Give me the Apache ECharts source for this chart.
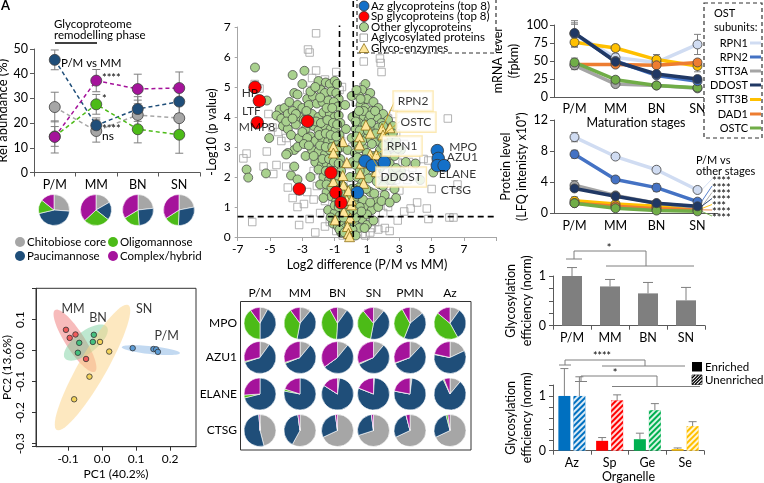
<!DOCTYPE html>
<html lang="en">
<head>
<meta charset="UTF-8">
<title>Glycoproteome remodelling</title>
<script src="https://cdn.jsdelivr.net/npm/echarts@6/dist/echarts.min.js"></script>
<style>
    body { margin: 0; padding: 0; overflow: hidden; background: #fff; }
    #chart { width: 764px; height: 483px; }
</style>
</head>
<body>
<div id="chart"></div>
<script>
// ---------- data ----------
const stages = ['P/M', 'MM', 'BN', 'SN'];
const glycoTypes = ['Chitobiose core', 'Paucimannose', 'Oligomannose', 'Complex/hybrid'];
const glycoColors = ['#a6a6a6', '#1f4e79', '#4cbb17', '#a5139b'];

// panel A: relative abundance (%)
const chitobiose = [26.5, 16.8, 23.3, 22.0];
const paucimannose = [45.6, 19.1, 25.7, 28.7];
const oligomannose = [14.6, 27.6, 17.5, 15.3];
const complexHybrid = [14.4, 37.2, 33.8, 34.2];
const chitobioseErr = [6, 4.5, 6, 6.5];
const paucimannoseErr = [4, 3, 5, 5];
const oligomannoseErr = [4, 4, 5.5, 7.5];
const complexHybridErr = [6.5, 4.5, 6, 6.5];

// volcano: [log2 diff, -log10 p]
const azGlycoproteins = [[5.35,2.88],[5.41,2.62],[5.35,2.38],[5.77,2.38],[0.88,2.53],[1.33,2.38],[2.07,2.49],[0.41,1.48]];
const spGlycoproteins = [[-5.93,4.99],[-5.66,4.54],[-5.79,3.81],[-2.67,3.86],[-1.23,2.14],[-3.19,1.6],[-0.92,1.48],[-0.61,1.14]];
const otherGlycoproteins = [
 [-5.93,5.65],[-5.2,4.55],[-5.05,3.3],[-6.45,2.25],[-6.35,1.98],[-5.25,2.12],[-3.7,2.05],[-3.3,1.92],
 [-2.87,5.54],[-3.6,5.4],[-2.0,5.2],[-1.55,5.15],[-1.3,5.1],[-1.0,5.2],[-0.85,5.1],
 [-3.0,5.1],[-3.5,4.8],[-2.7,4.6],[-2.35,4.7],[-1.85,4.9],[-1.6,4.8],[-1.2,4.85],[-0.9,4.8],[-0.75,4.6],
 [-4.4,4.25],[-4.1,4.3],[-3.8,4.5],[-3.3,4.4],[-3.0,4.3],[-2.6,4.4],[-2.1,4.45],[-1.75,4.5],[-1.4,4.55],[-1.05,4.5],[-0.8,4.35],
 [-4.6,4.05],[-4.3,3.95],[-3.9,4.1],[-3.6,4.2],[-3.2,4.0],[-2.9,3.9],[-2.4,4.1],[-2.0,4.0],[-1.7,4.15],[-1.3,4.1],[-1.0,4.0],[-0.75,4.05],[-0.65,3.8],
 [-4.2,3.7],[-3.9,3.6],[-3.4,3.75],[-2.8,3.6],[-2.3,3.7],[-2.0,3.55],[-1.6,3.7],[-1.25,3.6],[-0.95,3.55],[-0.7,3.4],
 [-3.7,3.4],[-3.2,3.3],[-2.5,3.35],[-2.2,3.2],[-1.8,3.3],[-1.4,3.2],[-1.1,3.25],[-0.8,3.1],[-0.6,3.0],
 [-3.5,2.9],[-3.3,3.0],[-3.9,2.8],[-4.0,2.75],[-3.5,2.35],[-2.4,2.9],[-2.0,2.85],[-1.6,2.75],[-1.3,2.9],[-0.9,2.7],[-0.65,2.6],
 [-2.2,2.5],[-1.8,2.4],[-1.5,2.45],[-1.2,2.35],[-0.85,2.3],[-0.6,2.2],
 [-2.5,2.0],[-1.7,2.0],[-1.35,1.9],[-1.0,1.85],[-0.75,1.8],[-0.5,1.7],
 [-1.5,1.5],[-1.2,1.35],[-0.9,1.2],[-0.6,1.3],[-0.4,1.45],
 [-1.4,0.9],[-1.0,0.8],[-0.7,0.7],[-0.45,0.9],[-0.3,1.1],
 [-1.1,0.45],[-0.8,0.35],[-0.55,0.5],[-0.35,0.3],[-0.2,0.6],[-0.6,0.15],[-0.25,0.1],
 [-3.3,4.75],[-2.5,4.85],[-2.2,5.0],[-1.9,4.65],[-1.5,4.3],[-1.15,4.3],[-2.75,4.2],[-3.4,4.1],[-4.0,3.85],[-3.6,3.95],
 [-2.6,3.8],[-2.15,3.85],[-1.85,3.8],[-1.45,3.9],[-1.1,3.8],[-0.85,3.75],[-3.0,3.5],[-2.7,3.3],[-1.95,3.4],[-1.55,3.45],
 [-1.25,3.4],[-0.9,3.35],[-2.9,3.1],[-2.6,3.05],[-1.9,3.05],[-1.55,3.0],[-1.15,3.0],[-0.85,2.9],[-2.8,2.7],[-2.3,2.7],
 [-1.75,2.6],[-1.35,2.6],[-1.05,2.5],[-0.75,2.45],[-2.0,2.25],[-1.55,2.2],[-1.1,2.1],[-0.8,2.05],[-1.9,1.75],[-1.5,1.75],
 [-1.2,1.65],[-0.9,1.55],[-0.65,1.5],[-1.7,1.3],[-1.0,1.05],[-0.75,1.0],[-0.5,1.15],[-1.25,0.65],[-0.9,0.55],[-0.45,0.65],
 [-0.7,0.25],[-0.4,0.15],
 [-0.1,0.4],[0.0,0.8],[-0.15,1.3],[0.05,1.6],[-0.05,2.0],[0.1,2.5],[-0.2,2.9],[0.05,3.3],[-0.3,3.6],[0.1,4.0],[-0.35,4.4],[0.05,4.7],
 [0.9,5.1],[0.7,4.9],[1.2,4.8],[0.5,4.7],[1.0,4.6],[1.4,4.5],[0.6,4.4],[1.7,4.3],[0.9,4.3],[1.3,4.2],
 [0.4,4.1],[2.0,4.1],[0.8,4.0],[1.6,4.0],[1.1,3.9],[2.3,3.9],[0.5,3.8],[1.9,3.8],[2.6,3.7],[0.3,3.6],[1.4,3.6],[2.2,3.5],[0.7,3.5],
 [0.45,3.3],[1.0,3.3],[1.6,3.2],[2.8,3.2],[0.3,3.1],[2.4,3.0],[0.8,2.95],[1.8,2.9],[3.1,2.9],[0.25,2.8],[1.4,2.7],[2.7,2.7],[0.6,2.6],
 [2.0,2.6],[3.4,2.5],[0.3,2.4],[1.8,2.3],[2.6,2.2],[0.9,2.2],[3.1,2.2],[4.3,1.9],[5.1,2.15],[0.4,2.0],[1.4,2.0],[2.3,1.9],
 [0.7,1.8],[1.8,1.75],[2.7,1.6],[0.3,1.6],[1.2,1.5],[2.1,1.4],[2.8,1.3],[0.5,1.3],[1.6,1.2],[0.2,1.1],[0.9,1.0],[1.3,0.9],
 [0.4,0.8],[0.7,0.6],[0.2,0.5],[0.5,0.3],[0.1,0.25],[0.3,0.05],[1.0,0.4],[1.7,1.0],
 [0.35,4.9],[0.6,4.6],[0.8,4.2],[1.2,4.05],[1.5,4.2],[0.5,4.2],[0.3,3.85],[0.9,3.75],[1.25,3.8],[1.7,3.65],[2.0,3.7],
 [0.55,3.55],[1.05,3.55],[1.55,3.45],[1.9,3.3],[2.3,3.3],[0.35,3.35],[0.7,3.2],[1.3,3.1],[2.0,3.05],[2.6,3.45],
 [0.5,2.95],[1.0,2.8],[1.6,2.7],[2.2,2.75],[2.9,2.95],[0.4,2.65],[0.8,2.45],[1.2,2.4],[1.55,2.25],[2.4,2.45],[2.8,2.3],
 [0.55,2.2],[1.1,1.95],[1.6,1.85],[2.0,1.7],[2.5,1.9],[0.5,1.65],[0.95,1.6],[1.45,1.45],[1.9,1.2],[2.4,1.15],[0.35,1.35],
 [0.75,1.25],[1.2,1.15],[0.55,1.0],[1.0,0.75],[0.3,0.65],[0.65,0.85],[1.4,0.55],[0.15,0.9],[0.85,0.3],[3.0,2.05],[4.0,2.45]
];
const aglycosylatedProteins = [
 [-6.65,2.62],[-6.45,2.78],[-5.95,5.1],[-5.65,4.95],[-5.1,4.1],[-5.2,2.85],[-5.4,2.35],[-4.8,2.1],[-4.6,2.4],[-4.85,3.65],
 [-4.3,3.2],[-6.1,0.5],[-3.2,0.4],[-2.55,0.6],[-2.15,6.79],[-2.65,6.25],[-2.55,6.15],[-2.15,5.55],[-0.9,5.5],[-1.6,5.25],
 [-0.55,5.0],[0.8,5.85],[1.8,5.95],[1.85,5.8],[1.9,5.5],[0.77,5.0],[1.2,4.75],[6.0,3.95],[5.0,1.6],[6.6,1.75],
 [6.1,0.65],[6.35,0.65],[4.1,1.15],[4.7,0.95],[4.8,0.6],[2.4,0.2],[3.2,2.45],[3.6,2.5],[4.5,2.6],[4.8,2.55],
 [3.8,2.3],[3.4,2.1],[-3.9,1.65],[-3.6,1.3],[-3.3,1.0],[-4.0,2.35],[-4.5,3.5],[-4.0,3.3],[-3.5,3.15],
 [-1.9,3.6],[-1.6,3.4],[-2.2,3.1],[-1.5,2.9],[-2.0,2.6],[-1.7,2.2],[-1.2,2.1],[-2.1,1.7],[-1.6,1.2],[-1.9,0.8],
 [-1.3,0.5],[-0.9,0.2],[-0.5,0.05],[0.05,0.2],[0.7,0.1],[1.2,0.15],[1.5,0.5],[2.0,0.8],[2.3,1.0],[1.9,1.4],
 [2.4,1.7],[1.7,2.1],[2.2,2.4],[2.9,2.5],[1.5,2.5],[2.6,3.0],[2.0,3.3],[2.4,3.6],[1.5,3.9],[1.2,4.4],
 [0.3,4.5],[-0.7,4.9],[-1.1,4.2],[-0.6,3.2],[0.1,3.0],[-0.2,2.4],[0.0,1.8],[-0.1,1.2],[0.6,0.95],[1.0,2.7],
 [2.8,1.9],[3.0,1.55],[3.5,1.9],[2.1,0.3],[0.9,0.05],[-2.3,1.25],[-2.7,1.5],[-2.9,1.1],[-2.3,2.2],[-2.6,2.7],
 [-2.9,3.4],[-3.1,3.7],[-3.4,4.1],[-2.7,4.9],[-2.4,5.3],[1.3,0.3],[1.7,0.25],[-1.6,0.35],[-2.2,0.15],[3.7,0.95],
 [2.9,0.55],[3.3,0.85],[2.3,3.95],[2.8,3.45],[3.3,3.1],[2.65,4.1]
];
const glycoEnzymes = [
 [-1.08,3.02],[-0.5,3.18],[-1.08,2.8],[-0.25,2.48],[-1.08,1.85],[-0.5,2.05],[-0.87,1.57],[-0.46,1.73],[-0.15,1.54],
 [-0.25,1.23],[-0.44,0.85],[0.04,1.07],[-0.97,0.57],[-0.04,0.63],[-0.21,0.35],[-0.15,0.12],[-0.08,0.01],
 [0.58,2.12],[0.68,2.46],[0.79,1.79],[0.93,3.73],[1.2,3.46],[0.54,3.34],[0.54,3.07],[1.93,3.62],[1.99,3.4],
 [2.42,3.64],[1.2,2.76],[1.57,2.74],[1.57,2.18],[0.04,1.23],[0.37,1.57]
];
const volcanoCutX = [-0.7, 0.15];
const volcanoCutY = 0.68;
const spLabels = [['HP',-6.25,4.8],['LTF',-6.15,4.2],['MMP8',-5.8,3.67]];
const azLabels = [['MPO',6.95,3.0],['AZU1',6.9,2.67],['ELANE',6.6,2.1],['CTSG',6.5,1.57]];
// enzyme label box centre, leader line start, leader line end
const enzymeLabels = [
 ['RPN2',3.85,4.53,2.69,4.5,1.93,3.62],
 ['OSTC',4.03,3.83,3.04,3.85,2.0,3.4],
 ['RPN1',3.17,3.03,2.25,3.0,1.57,2.74],
 ['DDOST',3.11,2.0,1.82,2.2,1.2,2.76]
];

// OST subunits
const ostSubunits = ['RPN1', 'RPN2', 'STT3A', 'DDOST', 'STT3B', 'DAD1', 'OSTC'];
const ostColors = ['#d0dcf2', '#4472c4', '#a5a5a5', '#203864', '#ffc000', '#ed7d31', '#70ad47'];
const mrnaRPN1 = [88, 55, 48, 73];
const mrnaRPN2 = [88, 50, 30, 22];
const mrnaSTT3A = [44, 18, 16, 12];
const mrnaDDOST = [89, 49, 32, 25];
const mrnaSTT3B = [76, 68, 52, 43];
const mrnaDAD1 = [45, 45, 44, 48];
const mrnaOSTC = [48, 24, 16, 13];
const mrnaErr = [[18,5,6,14],[15,4,3,3],[6,3,2,2],[12,5,4,4],[7,4,7,8],[3,3,3,4],[6,4,3,4]];
const protRPN1 = [9.8, 7.3, 5.6, 3.0];
const protRPN2 = [7.6, 4.35, 3.3, 1.5];
const protSTT3A = [3.6, 2.3, 1.3, 0.8];
const protDDOST = [3.2, 2.2, 1.3, 0.9];
const protSTT3B = [1.6, 1.2, 0.9, 0.6];
const protDAD1 = [1.3, 0.9, 0.6, 0.45];
const protOSTC = [1.3, 0.65, 0.35, 0.25];
const protErr = [[0.6,0.2,0.4,0.2],[0.5,0.3,0.5,0.3],[0.6,0.2,0.2,0.1],[0.3,0.2,0.2,0.1],[0.5,0.2,0.1,0.1],[0.3,0.1,0.1,0.1],[0.3,0.1,0.1,0.1]];
const protStars = ['****', '****', '****', '****', '***', '****', '****'];

// glycosylation efficiency
const glycEff = [1.0, 0.79, 0.65, 0.51];
const glycEffErr = [0.17, 0.14, 0.22, 0.26];
const organelles = ['Az', 'Sp', 'Ge', 'Se'];
const organelleColors = ['#0070c0', '#ff0000', '#00b050', '#ffc000'];
const enriched = [1.0, 0.18, 0.21, 0.03];
const enrichedErr = [0.5, 0.06, 0.11, 0.02];
const unenriched = [1.0, 0.92, 0.74, 0.45];
const unenrichedErr = [0.35, 0.1, 0.12, 0.08];

// PCA
const pcaGroups = ['MM', 'BN', 'SN', 'P/M'];
const pcaColors = ['#ef5b5b', '#45c07f', '#f3d35a', '#5b9bd5'];
const pcaFill = ['rgba(240,120,120,0.5)', 'rgba(110,205,150,0.45)', 'rgba(252,214,140,0.55)', 'rgba(120,170,225,0.45)'];
const pcaMM = [[-0.106,0.067],[-0.095,0.041],[-0.078,0.052],[-0.047,-0.027]];
const pcaBN = [[-0.024,0.051],[-0.027,0.028],[-0.067,0.025],[-0.071,-0.007]];
const pcaSN = [[-0.006,0.028],[0.021,-0.003],[-0.037,-0.084],[-0.082,-0.157]];
const pcaPM = [[0.09,0.008],[0.151,0.005],[0.159,0.004],[0.164,-0.004]];
// ellipse major axis ends (data units) + minor half width (px)
const pcaEllipses = [
 [-0.138,0.131,-0.021,-0.068,9.5],
 [-0.109,-0.025,0.014,0.077,11],
 [-0.133,-0.256,0.077,0.147,14],
 [0.058,0.011,0.229,-0.008,4]
];
const pcaLabels = [['MM',-0.085,0.134],['BN',-0.012,0.105],['SN',0.124,0.134],['P/M',0.19,0.047]];
const pcaYTicks = [-0.3, -0.2, -0.1, 0.0, 0.1];

// site glycan composition per protein, [chitobiose, pauci, oligo, complex]
const pieSamples = ['P/M', 'MM', 'BN', 'SN', 'PMN', 'Az'];
const pieProteins = ['MPO', 'AZU1', 'ELANE', 'CTSG'];
const mpoGlycans = [[8,42,40,10],[11,42,37,10],[10,41,41,8],[11,42,36,11],[14,42,36,8],[10,32,44,14]];
const azu1Glycans = [[10,60,1,29],[11,58,1,30],[11,54,0,35],[11,57,1,31],[12,57,0.5,30.5],[18,60,0.5,21.5]];
const elaneGlycans = [[0,71,3,26],[0,78,2,20],[2,82,0,16],[1,80,0,19],[2,76,0,22],[11,82,1,6]];
const ctsgGlycans = [[46,53,0,1],[58,40,0,2],[68,30,0,2],[70,28,0,2],[68,28,0,4],[68,28,2,2]];

// ---------- chart ----------
const FONT = 'Lato, "Liberation Sans", sans-serif';
const chart = echarts.init(document.getElementById('chart'));

function catAxis(gi, data, extra) {
    return Object.assign({
        type: 'category', gridIndex: gi, data: data, boundaryGap: true,
        axisLine: { show: true, onZero: false, lineStyle: { color: '#595959' } },
        axisTick: { show: true, length: 4, lineStyle: { color: '#595959' } },
        axisLabel: { color: '#000', fontSize: 12.5, fontFamily: FONT, margin: 6 },
        splitLine: { show: false },
        nameTextStyle: { color: '#000', fontSize: 12.5, fontFamily: FONT }
    }, extra || {});
}
function valAxis(gi, min, max, interval, extra) {
    return Object.assign({
        type: 'value', gridIndex: gi, min: min, max: max, interval: interval,
        axisLine: { show: true, onZero: false, lineStyle: { color: '#595959' } },
        axisTick: { show: true, length: 4, lineStyle: { color: '#595959' } },
        axisLabel: { color: '#000', fontSize: 12.5, fontFamily: FONT, margin: 6 },
        splitLine: { show: false },
        nameLocation: 'middle', nameRotate: 90,
        nameTextStyle: { color: '#000', fontSize: 12.5, fontFamily: FONT, lineHeight: 16 }
    }, extra || {});
}

// error bars on category axes
function errBars(xi, means, errs, color, offset, upOnly, cap) {
    return {
        type: 'custom', xAxisIndex: xi, yAxisIndex: xi, clip: false, silent: true, z: 1,
        encode: { x: 0, y: 1 },
        data: means.map((m, i) => [i, m, errs[i]]),
        renderItem: (params, api) => {
            const c = api.coord([api.value(0), api.value(1)]);
            const x = c[0] + (offset || 0);
            const top = api.coord([api.value(0), api.value(1) + api.value(2)])[1];
            const bot = upOnly ? c[1] : api.coord([api.value(0), api.value(1) - api.value(2)])[1];
            const w = cap || 4;
            const st = { stroke: color, lineWidth: 1 };
            const ch = [
                { type: 'line', shape: { x1: x, y1: top, x2: x, y2: bot }, style: st },
                { type: 'line', shape: { x1: x - w, y1: top, x2: x + w, y2: top }, style: st }
            ];
            if (!upOnly) ch.push({ type: 'line', shape: { x1: x - w, y1: bot, x2: x + w, y2: bot }, style: st });
            return { type: 'group', children: ch };
        }
    };
}

const series = [];

// ---- panel A lines
const aMeans = [chitobiose, paucimannose, oligomannose, complexHybrid];
const aErrs = [chitobioseErr, paucimannoseErr, oligomannoseErr, complexHybridErr];
aMeans.forEach((m, k) => series.push(errBars(0, m, aErrs[k], '#7f7f7f', 0, false, 4)));
aMeans.forEach((m, k) => series.push({
    type: 'line', name: glycoTypes[k], xAxisIndex: 0, yAxisIndex: 0, data: m, z: 3,
    lineStyle: { color: glycoColors[k], width: 1.5, type: [4, 3] },
    symbol: 'circle', symbolSize: 11,
    itemStyle: { color: glycoColors[k], borderColor: '#404040', borderWidth: 0.8 }
}));
// panel A pies
const aPieX = [54, 96, 138, 179];
stages.forEach((s, i) => series.push({
    type: 'pie', center: [aPieX[i], 210], radius: 15.5, startAngle: 90, clockwise: true,
    silent: true, label: { show: false }, labelLine: { show: false },
    itemStyle: { borderColor: '#fff', borderWidth: 0.6 },
    data: glycoTypes.map((g, k) => ({ name: g, value: aMeans[k][i], itemStyle: { color: glycoColors[k] } }))
}));

// ---- volcano
series.push({
    type: 'scatter', xAxisIndex: 1, yAxisIndex: 1, data: aglycosylatedProteins, symbol: 'rect', symbolSize: 7.5, z: 2,
    itemStyle: { color: 'rgba(255,255,255,0)', borderColor: '#a0a0a0', borderWidth: 1 }
});
series.push({
    type: 'scatter', xAxisIndex: 1, yAxisIndex: 1, data: otherGlycoproteins, symbolSize: 9, z: 3,
    itemStyle: { color: '#a9d18e', borderColor: '#3c3c3c', borderWidth: 0.7, opacity: 1 }
});
series.push({
    type: 'scatter', xAxisIndex: 1, yAxisIndex: 1, data: glycoEnzymes, symbol: 'triangle', symbolSize: 10, z: 4,
    itemStyle: { color: '#ffe699', borderColor: '#7f6000', borderWidth: 0.7, opacity: 1 }
});
series.push({
    type: 'scatter', xAxisIndex: 1, yAxisIndex: 1, data: spGlycoproteins, symbolSize: 12.5, z: 5,
    itemStyle: { color: '#ff0000', borderColor: '#333', borderWidth: 0.8, opacity: 1 }
});
series.push({
    type: 'scatter', xAxisIndex: 1, yAxisIndex: 1, data: azGlycoproteins, symbolSize: 12.5, z: 5,
    itemStyle: { color: '#1470c8', borderColor: '#333', borderWidth: 0.8, opacity: 1 }
});
// dashed cut-offs
series.push({
    type: 'custom', xAxisIndex: 1, yAxisIndex: 1, clip: false, silent: true, z: 6, encode: { x: 0, y: 1 },
    data: [[volcanoCutX[0], 0, volcanoCutX[0], 7.05], [volcanoCutX[1], 0, volcanoCutX[1], 7.9], [-7, volcanoCutY, 9, volcanoCutY]],
    renderItem: (p, api) => {
        const a = api.coord([api.value(0), api.value(1)]), b = api.coord([api.value(2), api.value(3)]);
        return { type: 'line', shape: { x1: a[0], y1: a[1], x2: b[0], y2: b[1] }, style: { stroke: '#000', lineWidth: 1.6, lineDash: [6, 4] } };
    }
});
// leader lines
series.push({
    type: 'custom', xAxisIndex: 1, yAxisIndex: 1, clip: false, silent: true, z: 6, encode: { x: 0, y: 1 },
    data: enzymeLabels.map(e => [e[3], e[4], e[5], e[6]]),
    renderItem: (p, api) => {
        const a = api.coord([api.value(0), api.value(1)]), b = api.coord([api.value(2), api.value(3)]);
        return { type: 'line', shape: { x1: a[0], y1: a[1], x2: b[0], y2: b[1] }, style: { stroke: '#c9a227', lineWidth: 1 } };
    }
});
series.push({
    type: 'scatter', xAxisIndex: 1, yAxisIndex: 1, symbolSize: 1, z: 7, silent: true,
    itemStyle: { color: 'rgba(0,0,0,0)' },
    data: enzymeLabels.map(e => ({ name: e[0], value: [e[1], e[2]] })),
    label: {
        show: true, position: 'inside', formatter: '{b}', color: '#000', fontSize: 12, fontFamily: FONT,
        backgroundColor: '#fff', borderColor: '#fbe3a0', borderWidth: 1.3, padding: [4, 4, 3, 4]
    }
});
series.push({
    type: 'scatter', xAxisIndex: 1, yAxisIndex: 1, symbolSize: 1, z: 7, silent: true,
    itemStyle: { color: 'rgba(0,0,0,0)' },
    data: spLabels.concat(azLabels).map(e => ({ name: e[0], value: [e[1], e[2]] })),
    label: { show: true, position: 'inside', formatter: '{b}', color: '#000', fontSize: 12, fontFamily: FONT }
});

// ---- mRNA and protein
const mrna = [mrnaRPN1, mrnaRPN2, mrnaSTT3A, mrnaDDOST, mrnaSTT3B, mrnaDAD1, mrnaOSTC];
const prot = [protRPN1, protRPN2, protSTT3A, protDDOST, protSTT3B, protDAD1, protOSTC];
mrna.forEach((m, k) => series.push(errBars(2, m, mrnaErr[k], '#808080', 0, false, 3.5)));
prot.forEach((m, k) => series.push(errBars(3, m, protErr[k], '#808080', 0, false, 3.5)));
const lineOrder = [0, 4, 5, 2, 6, 1, 3];
lineOrder.forEach(k => {
    [[2, mrna[k]], [3, prot[k]]].forEach(([ax, d]) => series.push({
        type: 'line', name: ostSubunits[k], xAxisIndex: ax, yAxisIndex: ax, data: d, z: 3,
        lineStyle: { color: ostColors[k], width: 3.5 },
        symbol: 'circle', symbolSize: 9,
        itemStyle: { color: ostColors[k], borderColor: '#404040', borderWidth: 0.8 }
    }));
});
// fan lines from SN to significance stars
const starRows = [179, 186, 192.5, 198.5, 204.5, 210, 216];
series.push({
    type: 'custom', xAxisIndex: 3, yAxisIndex: 3, clip: false, silent: true, z: 2, encode: { x: 0, y: 1 },
    data: prot.map((d, k) => [3, d[3], k]),
    renderItem: (p, api) => {
        const k = api.value(2);
        const c = api.coord([api.value(0), api.value(1)]);
        return { type: 'line', shape: { x1: c[0] + 4, y1: c[1], x2: 712, y2: starRows[k] }, style: { stroke: ostColors[k], lineWidth: 0.9 } };
    }
});

// ---- glycosylation efficiency bars
series.push({
    type: 'bar', xAxisIndex: 4, yAxisIndex: 4, data: glycEff, barWidth: 20, z: 2,
    itemStyle: { color: '#7f7f7f' }
});
series.push(errBars(4, glycEff, glycEffErr, '#7f7f7f', 0, true, 5));

series.push({
    type: 'bar', name: 'Enriched', xAxisIndex: 5, yAxisIndex: 5, barWidth: 12, barGap: '25%', z: 2,
    data: enriched.map((v, i) => ({ value: v, itemStyle: { color: organelleColors[i] } }))
});
series.push({
    type: 'bar', name: 'Unenriched', xAxisIndex: 5, yAxisIndex: 5, barWidth: 12, barGap: '25%', z: 2,
    data: unenriched.map((v, i) => ({
        value: v,
        itemStyle: {
            color: organelleColors[i],
            decal: { symbol: 'rect', symbolSize: 1, color: 'rgba(255,255,255,0.85)', dashArrayX: [1, 0], dashArrayY: [2, 2], rotation: -Math.PI / 4 }
        }
    }))
});
series.push(errBars(5, enriched, enrichedErr, '#808080', -7.5, true, 4));
series.push(errBars(5, unenriched, unenrichedErr, '#808080', 7.5, true, 4));

// ---- PCA
series.push({
    type: 'custom', xAxisIndex: 6, yAxisIndex: 6, clip: false, silent: true, z: 1, encode: { x: 0, y: 1 },
    data: pcaEllipses.map((e, k) => e.concat([k])),
    renderItem: (p, api) => {
        const a = api.coord([api.value(0), api.value(1)]), b = api.coord([api.value(2), api.value(3)]);
        const cx = (a[0] + b[0]) / 2, cy = (a[1] + b[1]) / 2;
        const R = Math.hypot(b[0] - a[0], b[1] - a[1]) / 2, r = api.value(4);
        const ang = Math.atan2(b[1] - a[1], b[0] - a[0]);
        const pts = [];
        for (let i = 0; i < 60; i++) {
            const t = i / 60 * Math.PI * 2;
            const ex = R * Math.cos(t), ey = r * Math.sin(t);
            pts.push([cx + ex * Math.cos(ang) - ey * Math.sin(ang), cy + ex * Math.sin(ang) + ey * Math.cos(ang)]);
        }
        return { type: 'polygon', shape: { points: pts }, style: { fill: pcaFill[api.value(5)] } };
    }
});
[pcaMM, pcaBN, pcaSN, pcaPM].forEach((d, k) => series.push({
    type: 'scatter', name: pcaGroups[k], xAxisIndex: 6, yAxisIndex: 6, data: d, symbolSize: 5.5, z: 3,
    itemStyle: { color: pcaColors[k], borderColor: '#333', borderWidth: 0.8, opacity: 1 }
}));
series.push({
    type: 'scatter', xAxisIndex: 6, yAxisIndex: 6, symbolSize: 1, z: 4, silent: true,
    itemStyle: { color: 'rgba(0,0,0,0)' },
    data: pcaLabels.map(e => ({ name: e[0], value: [e[1], e[2]] })),
    label: { show: true, position: 'inside', formatter: '{b}', color: '#000', fontSize: 12.5, fontFamily: FONT }
});
// rotated PC2 tick labels (R style), placed through the y scale
series.push({
    type: 'custom', xAxisIndex: 6, yAxisIndex: 6, clip: false, silent: true, z: 4, encode: { x: 0, y: 1 },
    data: pcaYTicks.map(v => [-0.194, v]),
    renderItem: (p, api) => {
        const c = api.coord([api.value(0), api.value(1)]);
        return {
            type: 'text', x: c[0] - 10, y: c[1], rotation: Math.PI / 2,
            style: { text: api.value(1).toFixed(1), fill: '#000', font: '12px ' + FONT, align: 'center', verticalAlign: 'bottom' }
        };
    }
});

// ---- pie grid
const pieX = [260, 300, 337.5, 373.5, 410, 450];
const pieY = [323.3, 357.5, 394, 430.5];
[mpoGlycans, azu1Glycans, elaneGlycans, ctsgGlycans].forEach((row, r) => {
    row.forEach((vals, c) => series.push({
        type: 'pie', center: [pieX[c], pieY[r]], radius: 16, startAngle: 90, clockwise: true,
        silent: true, label: { show: false }, labelLine: { show: false },
        itemStyle: { borderColor: '#fff', borderWidth: 0.6 },
        data: vals.map((v, k) => ({ name: glycoTypes[k], value: v, itemStyle: { color: glycoColors[k] } }))
    }));
});

// ---------- graphic annotations ----------
function T(x, y, text, o) {
    o = o || {};
    return {
        type: 'text', x: x, y: y, rotation: o.rot || 0, z: 100, silent: true,
        style: {
            text: text, fill: o.color || '#000', font: (o.weight || 'normal') + ' ' + (o.size || 12) + 'px ' + FONT,
            textAlign: o.align || 'left', align: o.align || 'left', textVerticalAlign: 'middle', verticalAlign: 'middle'
        }
    };
}
function L(points, o) {
    o = o || {};
    return { type: 'polyline', z: 100, silent: true, shape: { points: points }, style: { stroke: o.color || '#7f7f7f', lineWidth: o.w || 1, fill: null, lineDash: o.dash || null } };
}
function Dot(x, y, r, color, border) {
    return { type: 'circle', z: 100, silent: true, shape: { cx: x, cy: y, r: r }, style: { fill: color, stroke: border || null, lineWidth: 0.8 } };
}
const g = [];
g.push(T(1, 6, 'A', { weight: 'bold', size: 13 }));
// panel A notes
g.push(T(54, 24, 'Glycoproteome', { size: 11.5 }));
g.push(T(54, 35, 'remodelling phase', { size: 11.5 }));
g.push(L([[55, 43], [97, 43]], { color: '#000', w: 1.3 }));
g.push(T(61, 63, 'P/M vs MM', { size: 11.5 }));
g.push(T(102, 78, '****', { size: 11 }));
g.push(T(102, 99, '*', { size: 11 }));
g.push(T(102, 129, '****', { size: 11 }));
g.push(T(102, 136, 'ns', { size: 12 }));
// panel A legend
[[20, 242, 0], [113, 242, 2], [20, 256, 1], [113, 256, 3]].forEach(([x, y, k]) => {
    g.push(Dot(x, y, 5, glycoColors[k]));
    g.push(T(x + 7, y, glycoTypes[k], { size: 11.5 }));
});
// volcano legend
g.push({ type: 'rect', z: 99, silent: true, shape: { x: 357, y: -2, width: 139, height: 55 }, style: { fill: '#fff', stroke: '#333', lineWidth: 1.2, lineDash: [4, 3] } });
const vLeg = [['Az glycoproteins (top 8)', 6], ['Sp glycoproteins (top 8)', 16.5], ['Other glycoproteins', 27], ['Aglycosylated proteins', 37.5], ['Glyco-enzymes', 48]];
g.push(Dot(364, 6, 5, '#1470c8', '#333'));
g.push(Dot(364, 16.5, 5, '#ff0000', '#333'));
g.push(Dot(364, 27, 4.5, '#a9d18e', '#3c3c3c'));
g.push({ type: 'rect', z: 100, silent: true, shape: { x: 360, y: 34, width: 7.5, height: 7.5 }, style: { fill: '#fff', stroke: '#a0a0a0', lineWidth: 1 } });
g.push({ type: 'polygon', z: 100, silent: true, shape: { points: [[364, 43.5], [369, 52.5], [359, 52.5]] }, style: { fill: '#ffe699', stroke: '#7f6000', lineWidth: 0.7 } });
vLeg.forEach(([t, y]) => g.push(T(371, y, t, { size: 11.5 })));
// OST legend
g.push({ type: 'rect', z: 99, silent: true, shape: { x: 704, y: 3, width: 58, height: 135 }, style: { fill: '#fff', stroke: '#333', lineWidth: 1.2, lineDash: [4, 3] } });
g.push(T(714, 13, 'OST', { size: 11 }));
g.push(T(714, 27, 'subunits:', { size: 11 }));
const ostRows = [43, 57, 71, 85, 99.5, 114, 128];
ostSubunits.forEach((s, k) => {
    g.push(T(748, ostRows[k], s, { size: 11, align: 'right' }));
    g.push(L([[750, ostRows[k]], [761, ostRows[k]]], { color: ostColors[k], w: 3 }));
});
// protein notes
g.push(T(696, 160, 'P/M vs', { size: 11 }));
g.push(T(696, 171, 'other stages', { size: 11 }));
protStars.forEach((s, k) => g.push(T(712, starRows[k] + 2, s, { size: 11 })));
// pie grid frame and labels
g.push({ type: 'rect', z: 99, silent: true, shape: { x: 240.5, y: 301.5, width: 230.5, height: 148.5 }, style: { fill: null, stroke: '#333', lineWidth: 1 } });
pieSamples.forEach((s, c) => g.push(T(pieX[c], 293, s, { size: 12, align: 'center' })));
pieProteins.forEach((s, r) => g.push(T(237, pieY[r], s, { size: 12, align: 'right' })));
// bar brackets
g.push(T(609, 248, '*', { size: 11, align: 'center' }));
g.push(L([[574, 259], [574, 251], [646, 251], [646, 266]]));
g.push(L([[566, 259], [582, 259]]));
g.push(L([[606, 266], [694, 266]]));
g.push(T(602, 357, '****', { size: 10.5, align: 'center' }));
g.push(L([[565, 365], [565, 360], [645, 360], [645, 366]]));
g.push(L([[559, 365], [571, 365]]));
g.push(L([[602, 366], [685, 366]]));
g.push(T(615, 373, '*', { size: 11, align: 'center' }));
g.push(L([[581, 381.5], [581, 376], [657, 376], [657, 386.5]]));
g.push(L([[575, 381.5], [587, 381.5]]));
g.push(L([[612, 386.5], [700, 386.5]]));
// organelle legend
g.push({ type: 'rect', z: 100, silent: true, shape: { x: 692, y: 362, width: 10, height: 9.5 }, style: { fill: '#000' } });
g.push(T(705, 367, 'Enriched', { size: 11.5 }));
g.push({ type: 'rect', z: 100, silent: true, shape: { x: 692, y: 375, width: 10, height: 9.5 }, style: { fill: '#fff', stroke: '#000', lineWidth: 0.6 } });
[[[692, 378], [695, 375]], [[692, 381.5], [698.5, 375]], [[692, 384.5], [701.5, 375]], [[695, 384.5], [702, 377.5]], [[698.5, 384.5], [702, 381]]]
    .forEach(p => g.push(L(p, { color: '#000', w: 1.2 })));
g.push(T(705, 380, 'Unenriched', { size: 11.5 }));

// ---------- option ----------
const pcaFmt = v => Math.abs(v * 10 - Math.round(v * 10)) < 1e-6 ? (Math.round(v * 10) / 10).toFixed(1) : '';
const option = {
    animation: false,
    textStyle: { fontFamily: FONT },
    grid: [
        { left: 34, top: 49, width: 166, height: 123.5, outerBoundsMode: 'none' },
        { left: 237.7, top: 27, width: 258.6, height: 210, outerBoundsMode: 'none' },
        { left: 554, top: 25, width: 164, height: 72, outerBoundsMode: 'none' },
        { left: 554, top: 120, width: 164, height: 93.3, outerBoundsMode: 'none' },
        { left: 553, top: 276, width: 152, height: 49.7, outerBoundsMode: 'none' },
        { left: 553, top: 385, width: 151, height: 65.7, outerBoundsMode: 'none' },
        { left: 36, top: 288.3, width: 160, height: 158.4, show: true, borderColor: '#333', borderWidth: 1, outerBoundsMode: 'none' }
    ],
    xAxis: [
        catAxis(0, stages),
        valAxis(1, -7, 9, 2, {
            axisLine: { show: true, onZero: false, lineStyle: { color: '#a6a6a6' } },
            axisTick: { show: true, length: 4, lineStyle: { color: '#a6a6a6' } },
            axisLabel: { color: '#000', fontSize: 12, fontFamily: FONT, margin: 6, formatter: v => v > 7 ? '' : String(v) },
            name: 'Log2 difference (P/M vs MM)', nameRotate: 0, nameGap: 20
        }),
        catAxis(2, stages, { name: 'Maturation stages', nameLocation: 'middle', nameGap: 19, axisTick: { show: false }, axisLabel: { color: '#000', fontSize: 12.5, fontFamily: FONT, margin: 5 } }),
        catAxis(3, stages, { axisTick: { show: false } }),
        catAxis(4, stages),
        catAxis(5, organelles, { name: 'Organelle', nameLocation: 'middle', nameGap: 19 }),
        {
            type: 'value', gridIndex: 6, min: -0.194, max: 0.276, splitNumber: 5,
            axisLine: { show: true, onZero: false, lineStyle: { color: '#333' } },
            axisTick: { show: true, length: 4, lineStyle: { color: '#333' } },
            axisLabel: { color: '#000', fontSize: 12, fontFamily: FONT, margin: 6, showMinLabel: false, showMaxLabel: false, formatter: pcaFmt },
            splitLine: { show: false },
            name: 'PC1 (40.2%)', nameLocation: 'middle', nameGap: 21,
            nameTextStyle: { color: '#000', fontSize: 12, fontFamily: FONT }
        }
    ],
    yAxis: [
        valAxis(0, 0, 50, 10, { name: 'Rel abundance (%)', nameGap: 15, nameTextStyle: { color: '#000', fontSize: 13, fontFamily: FONT } }),
        valAxis(1, 0, 7, 1, {
            axisLine: { show: true, onZero: false, lineStyle: { color: '#a6a6a6' } },
            axisTick: { show: true, length: 3, lineStyle: { color: '#a6a6a6' } },
            axisLabel: { color: '#000', fontSize: 12, fontFamily: FONT, margin: 7 },
            name: '-Log10 (p value)', nameGap: 17
        }),
        valAxis(2, 0, 100, 25, { name: 'mRNA level\n(fpkm)', nameGap: 26 }),
        valAxis(3, 0, 12, 4, { name: 'Protein level\n(LFQ intenisty x10\u2079)', nameGap: 21 }),
        valAxis(4, 0, 1, 0.25, {
            axisLabel: { color: '#000', fontSize: 12.5, fontFamily: FONT, margin: 7, formatter: v => (v === 0 || v === 1) ? String(v) : '' },
            name: 'Glycosylation\nefficiency (norm)', nameGap: 16
        }),
        valAxis(5, 0, 1.2, 0.2, {
            axisLabel: { color: '#000', fontSize: 12.5, fontFamily: FONT, margin: 7, formatter: v => (Math.abs(v) < 1e-9 || Math.abs(v - 1) < 1e-9) ? String(Math.round(v)) : '' },
            name: 'Glycosylation\nefficiency (norm)', nameGap: 16
        }),
        {
            type: 'value', gridIndex: 6, min: -0.31, max: 0.201, splitNumber: 5,
            axisLine: { show: true, onZero: false, lineStyle: { color: '#333' } },
            axisTick: { show: true, length: 4, lineStyle: { color: '#333' } },
            axisLabel: { show: false },
            splitLine: { show: false },
            name: 'PC2 (13.6%)', nameLocation: 'middle', nameGap: 23, nameRotate: 90,
            nameTextStyle: { color: '#000', fontSize: 12, fontFamily: FONT }
        }
    ],
    series: series,
    graphic: { elements: g }
};
chart.setOption(option);
</script>
</body>
</html>
